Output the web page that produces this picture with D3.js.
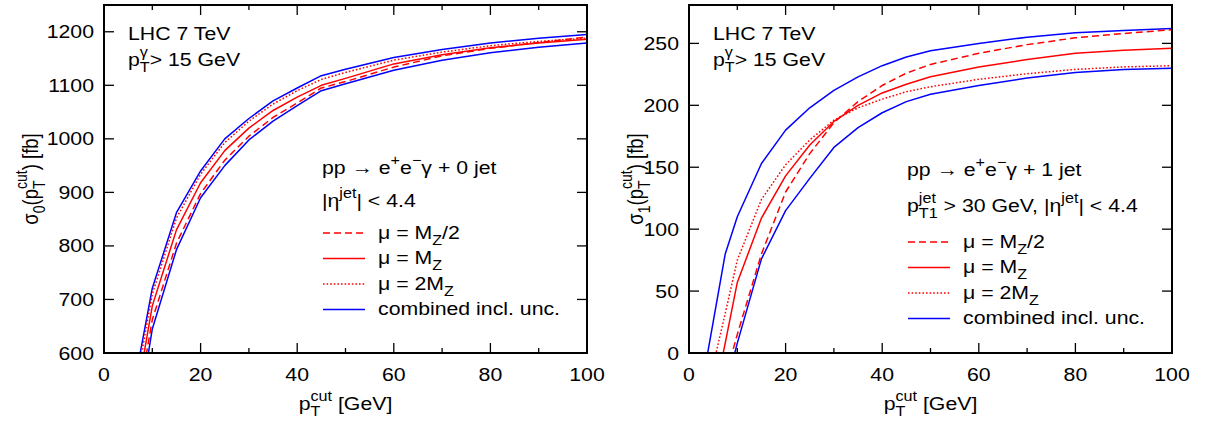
<!DOCTYPE html>
<html><head><meta charset="utf-8">
<script src="https://cdn.jsdelivr.net/npm/d3@7"></script>
<style>
html,body{margin:0;padding:0;background:#fff;}
svg text{font-family:"Liberation Sans",Arial,Helvetica,sans-serif;white-space:pre;fill:#000;}
</style></head>
<body><svg id="c" width="1205" height="423"></svg>
<script>
// ---------- data ----------
const ptCut = [2.5,5,7.5,10,15,20,25,30,35,40,45,50,60,70,80,90,100];

// sigma_0 (0 jet) [fb]
const s0_half  = [272,402,532,662,805,898,960,1005,1040,1067,1095,1107,1134,1155,1169,1180,1190];
const s0_one   = [298,428,558,688,830,918,978,1020,1053,1078,1100,1113,1140,1157,1170,1179,1186];
const s0_two   = [335,460,585,710,852,934,993,1033,1065,1090,1111,1124,1147,1162,1174,1182,1188];
const s0_bandHi= [360,480,600,721,862,940,1000,1038,1071,1095,1118,1130,1152,1167,1179,1188,1195];
const s0_bandLo= [225,365,505,645,793,890,950,998,1033,1062,1090,1103,1128,1147,1161,1171,1179];

// sigma_1 (1 jet) [fb]
const s1_half  = [-100,-60,-20,15,80,130,161,186,203,216,226,233,242,249,254.5,258,261];
const s1_one   = [-90,-40,8,57,109,143,168,187,200,210,217,223,231,237,242,244.5,246];
const s1_two   = [-50,-10,32,75,124,152,172,188,198,205,211,215,221,225.5,229,231,232];
const s1_bandHi= [-30,25,80,110,153,180,198,212,223,232,239,244,250,255,258.5,260.5,262];
const s1_bandLo= [-130,-80,-30,8,76,115,141,166,182,194,203,209,216,222,226.5,229,230];

const xTicks = [0,20,40,60,80,100];
const xMinor = [10,30,50,70,90];
const y0Ticks = [600,700,800,900,1000,1100,1200];
const y1Ticks = [0,50,100,150,200,250];

const legendLabels = [
  ["μ = M", {sub:"Z"}, "/2"],
  ["μ = M", {sub:"Z"}],
  ["μ = 2M", {sub:"Z"}],
  ["combined incl. unc."]
];

// ---------- styling ----------
const FS = 18.5, SS = 0.76, SX = 1.15;
const RED = "#ff0000", BLUE = "#0000ff";
const styles = {
  half: {color:RED, dash:"7,4"},
  one:  {color:RED, dash:null},
  two:  {color:RED, dash:"1.6,2"},
  band: {color:BLUE, dash:null}
};

const svg = d3.select("#c");

function rich(parent, x, y, parts, opt={}) {
  const size = opt.size || FS, anchor = opt.anchor || "start";
  const g = parent.append("g");
  const inner = g.append("g");
  let cx = 0;
  for (const p of parts) {
    if (typeof p === "string") {
      const t = inner.append("text").attr("x",cx).attr("y",0).attr("font-size",size).text(p);
      cx += t.node().getComputedTextLength();
    } else {
      let w = 0;
      if (p.sup) {
        const t = inner.append("text").attr("x",cx).attr("y",-size*0.50).attr("font-size",size*SS).text(p.sup);
        w = Math.max(w, t.node().getComputedTextLength());
      }
      if (p.sub) {
        const t = inner.append("text").attr("x",cx).attr("y",size*0.34).attr("font-size",size*SS).text(p.sub);
        w = Math.max(w, t.node().getComputedTextLength());
      }
      cx += w;
    }
  }
  const off = anchor === "middle" ? -cx/2 : anchor === "end" ? -cx : 0;
  inner.attr("transform", `translate(${off},0)`);
  g.attr("transform", opt.rotate
    ? `translate(${x},${y}) rotate(-90) scale(1,${SX})`
    : `translate(${x},${y}) scale(${SX},1)`);
  return g;
}

function panel(cfg) {
  const {x0, x1, yTop, yBot, yDomain, yTicks, series, texts, legendX, legendY, ytitle, ytitleX} = cfg;
  const x = d3.scaleLinear().domain([0,100]).range([x0,x1]);
  const y = d3.scaleLinear().domain(yDomain).range([yBot,yTop]);
  const g = svg.append("g");
  const clipId = "clip" + x0;
  g.append("clipPath").attr("id",clipId).append("rect")
    .attr("x",x0).attr("y",yTop).attr("width",x1-x0).attr("height",yBot-yTop);

  // curves
  const line = d3.line().x((d,i)=>x(ptCut[i])).y(d=>y(d));
  const cg = g.append("g").attr("clip-path",`url(#${clipId})`);
  for (const s of series) {
    const st = styles[s.style];
    cg.append("path").attr("d", line(s.values)).attr("fill","none")
      .attr("stroke", st.color).attr("stroke-width",1.5)
      .attr("stroke-dasharray", st.dash).attr("stroke-linejoin","round");
  }

  // ticks (inward, mirrored)
  const tk = g.append("g").attr("stroke","#000").attr("stroke-width",1.3);
  for (const t of xTicks) {
    tk.append("line").attr("x1",x(t)).attr("x2",x(t)).attr("y1",yBot).attr("y2",yBot-10);
    tk.append("line").attr("x1",x(t)).attr("x2",x(t)).attr("y1",yTop).attr("y2",yTop+10);
  }
  for (const t of xMinor) {
    tk.append("line").attr("x1",x(t)).attr("x2",x(t)).attr("y1",yBot).attr("y2",yBot-5);
    tk.append("line").attr("x1",x(t)).attr("x2",x(t)).attr("y1",yTop).attr("y2",yTop+5);
  }
  for (const t of yTicks) {
    tk.append("line").attr("x1",x0).attr("x2",x0+10).attr("y1",y(t)).attr("y2",y(t));
    tk.append("line").attr("x1",x1).attr("x2",x1-10).attr("y1",y(t)).attr("y2",y(t));
  }
  // frame
  g.append("rect").attr("x",x0).attr("y",yTop).attr("width",x1-x0).attr("height",yBot-yTop)
    .attr("fill","none").attr("stroke","#000").attr("stroke-width",2);

  // tick labels
  for (const t of xTicks) rich(g, x(t), yBot+28, [String(t)], {anchor:"middle"});
  for (const t of yTicks) rich(g, x0-10, y(t)+6.5, [String(t)], {anchor:"end"});

  // axis titles
  rich(g, (x0+x1)/2, 410, ["p",{sub:"T",sup:"cut"}," [GeV]"], {anchor:"middle"});
  rich(g, ytitleX, (yTop+yBot)/2, ytitle, {anchor:"middle", rotate:true});

  // texts
  for (const t of texts) rich(g, t.x, t.y, t.parts);

  // legend
  const order = ["half","one","two","band"];
  order.forEach((k,i)=>{
    const st = styles[k];
    const ly = legendY + i*25.5;
    g.append("line").attr("x1",legendX).attr("x2",legendX+42).attr("y1",ly).attr("y2",ly)
      .attr("stroke",st.color).attr("stroke-width",1.5).attr("stroke-dasharray",st.dash);
    rich(g, legendX+55, ly+5.5, legendLabels[i]);
  });
}

const ptGamma = ["p",{sub:"T",sup:"γ"},"> 15 GeV"];

panel({
  x0:104, x1:587, yTop:5, yBot:353, yDomain:[600,1250], yTicks:y0Ticks,
  series:[
    {style:"band", values:s0_bandHi},{style:"band", values:s0_bandLo},
    {style:"two", values:s0_two},{style:"one", values:s0_one},{style:"half", values:s0_half}
  ],
  texts:[
    {x:128, y:40, parts:["LHC 7 TeV"]},
    {x:128, y:66, parts:ptGamma},
    {x:322, y:174, parts:["pp → e",{sup:"+"},"e",{sup:"−"},"γ + 0 jet"]},
    {x:322, y:207, parts:["|η",{sup:"jet"},"| < 4.4"]}
  ],
  legendX:323, legendY:233,
  ytitle:["σ",{sub:"0"},"(p",{sub:"T",sup:"cut"},") [fb]"], ytitleX:38
});

panel({
  x0:689, x1:1172, yTop:5, yBot:353, yDomain:[0,281], yTicks:y1Ticks,
  series:[
    {style:"band", values:s1_bandHi},{style:"band", values:s1_bandLo},
    {style:"two", values:s1_two},{style:"one", values:s1_one},{style:"half", values:s1_half}
  ],
  texts:[
    {x:713, y:40, parts:["LHC 7 TeV"]},
    {x:713, y:66, parts:ptGamma},
    {x:907, y:176, parts:["pp → e",{sup:"+"},"e",{sup:"−"},"γ + 1 jet"]},
    {x:907, y:212, parts:["p",{sub:"T1",sup:"jet"}," > 30 GeV, |η",{sup:"jet"},"| < 4.4"]}
  ],
  legendX:908, legendY:242,
  ytitle:["σ",{sub:"1"},"(p",{sub:"T",sup:"cut"},") [fb]"], ytitleX:643
});
</script></body></html>
